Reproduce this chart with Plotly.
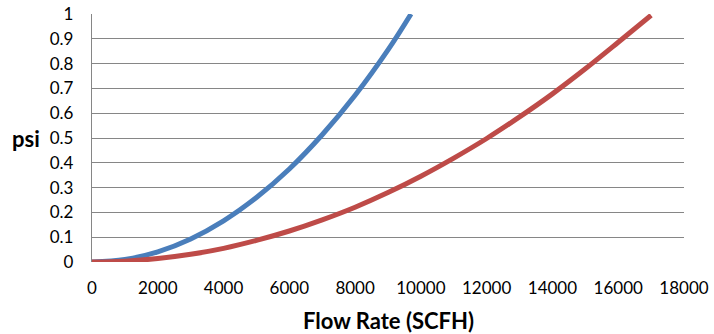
import plotly.graph_objects as go

# Data
flow_blue = [0, 1000, 2000, 3000, 4000, 5000, 6000, 7000, 8000, 9000, 9700]
psi_blue = [0, 0.010, 0.041, 0.093, 0.166, 0.260, 0.375, 0.513, 0.672, 0.855, 1.0]

flow_red = [0, 1000, 2000, 3000, 4000, 5000, 6000, 7000, 8000, 9000, 10000,
            11000, 12000, 13000, 14000, 15000, 16000, 17000]
psi_red = [0, 0.0035, 0.014, 0.031, 0.055, 0.087, 0.125, 0.17, 0.221, 0.28, 0.346,
           0.419, 0.498, 0.585, 0.678, 0.779, 0.886, 0.995]

x_ticks = [0, 2000, 4000, 6000, 8000, 10000, 12000, 14000, 16000, 18000]
x_tick_text = ["0", "2000", "4000", "6000", "8000", "10000", "12000", "14000", "16000", "18000"]
y_ticks = [0, 0.1, 0.2, 0.3, 0.4, 0.5, 0.6, 0.7, 0.8, 0.9, 1]
y_tick_text = ["0", "0.1", "0.2", "0.3", "0.4", "0.5", "0.6", "0.7", "0.8", "0.9", "1"]

x_title = "Flow Rate (SCFH)"
y_title = "psi"

FONT = "Lato"
GRID = "#868686"

fig = go.Figure()
fig.add_trace(go.Scatter(x=flow_blue, y=psi_blue, mode="lines", line_shape="spline",
                         line=dict(color="#4A7EBB", width=5), showlegend=False))
fig.add_trace(go.Scatter(x=flow_red, y=psi_red, mode="lines", line_shape="spline",
                         line=dict(color="#BE4B48", width=5), showlegend=False))

fig.update_layout(
    width=714, height=334,
    margin=dict(l=92, r=30, t=14, b=72, autoexpand=False),
    paper_bgcolor="white", plot_bgcolor="white",
    font=dict(family=FONT, size=17, color="black"),
    xaxis=dict(range=[0, 18000], tickvals=x_ticks, ticktext=x_tick_text, ticks="",
               showgrid=False, automargin=False,
               zeroline=False, showline=False, ticklabelstandoff=14,
               tickfont=dict(family=FONT, size=17, color="black")),
    yaxis=dict(range=[0, 1], tickvals=y_ticks, ticktext=y_tick_text, ticks="",
               showgrid=True, gridcolor=GRID, gridwidth=1.4, automargin=False,
               zeroline=False, showline=True, linecolor=GRID, linewidth=1.4,
               ticklabelstandoff=14,
               tickfont=dict(family=FONT, size=17, color="black")),
    annotations=[
        dict(text="<b>" + x_title + "</b>", xref="paper", yref="paper", x=0.5, y=0,
             yshift=-58, xanchor="center", yanchor="middle", showarrow=False,
             font=dict(family=FONT, size=22, color="black")),
        dict(text="<b>" + y_title + "</b>", xref="paper", yref="paper", x=0, y=0.5,
             xshift=-66, xanchor="center", yanchor="middle", showarrow=False,
             font=dict(family=FONT, size=22, color="black")),
    ],
)

fig.write_html("out.html", config={"displayModeBar": False},
               post_script="document.body.style.margin='0';document.body.style.overflow='hidden';")
